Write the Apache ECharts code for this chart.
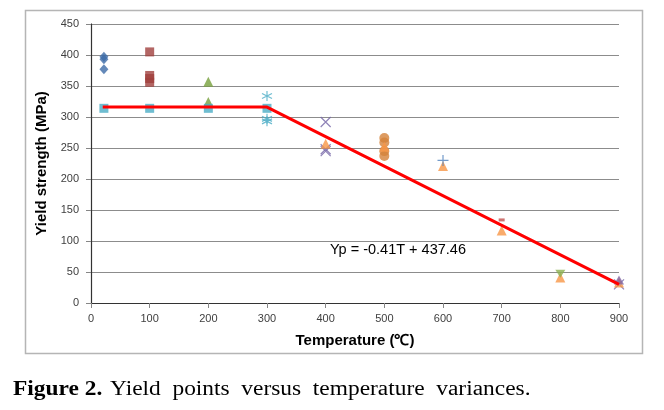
<!DOCTYPE html>
<html><head><meta charset="utf-8">
<script src="https://cdn.jsdelivr.net/npm/echarts@6/dist/echarts.min.js"></script>
<style>html,body{margin:0;padding:0;background:#fff}#c{width:664px;height:410px}</style>
</head><body><div id="c"></div>
<script>
// Data (temperature °C, yield strength MPa)
const diamondBlue   = [[22,397],[22,393],[22,377]];
const squareRed     = [[100,405],[100,367],[100,362],[100,356]];
const triangleGreen = [[200,357],[200,324]];
const squareCyan    = [[22,314],[100,314],[200,314],[300,314]];
const starCyan      = [[300,334],[300,297],[300,293]];
const crossPurple   = [[400,292],[400,245],[400,248],[900,30]];
const circleOrange  = [[500,266],[500,259],[500,245],[500,237]];
const triangleOrange= [[400,257],[500,252],[600,221],[700,117],[800,41],[900,33]];
const plusBlue      = [[600,230]];
const dashRed       = [[700,134]];
const greenMark     = [[800,47]];
const purpleMark    = [[900,37]];
const fitLine       = [[20,316],[300,316],[900,30]];
const xTicks = [0,100,200,300,400,500,600,700,800,900];
const yTicks = [0,50,100,150,200,250,300,350,400,450];
const equationText = 'Yp = -0.41T + 437.46';

const chart = echarts.init(document.getElementById('c'));
const tickFont = {fontFamily:'Liberation Sans', fontSize:11, color:'#404040'};
const sc = (name,data,symbol,size,color,extra) => Object.assign({
  type:'scatter', name, data, symbol, symbolSize:size,
  itemStyle:{color}, z:3
}, extra||{});
const strokeSym = (name,data,path,size,color) => ({
  type:'scatter', name, data, symbol:path, symbolSize:size,
  itemStyle:{color:'none', borderColor:color, borderWidth:1.2}, z:3
});
chart.setOption({
  animation:false,
  grid:{left:91, right:45, top:24, bottom:107},
  xAxis:[{
    type:'value', min:0, max:900, interval:100,
    axisLine:{show:true, lineStyle:{color:'#868686', width:1}},
    axisTick:{show:true, length:5, lineStyle:{color:'#868686'}},
    axisLabel:Object.assign({margin:10}, tickFont),
    splitLine:{show:false},
    name:'Temperature (℃)', nameLocation:'middle', nameGap:30,
    nameTextStyle:{fontFamily:'Liberation Sans', fontWeight:'bold', fontSize:15, color:'#000'}
  },{
    type:'value', position:'top', min:0, max:900,
    axisLine:{show:true, lineStyle:{color:'#333', width:1.2}},
    axisTick:{show:false}, axisLabel:{show:false}, splitLine:{show:false}
  }],
  yAxis:[{
    type:'value', min:0, max:450, interval:50,
    axisLine:{show:true, lineStyle:{color:'#868686', width:1}},
    axisTick:{show:true, length:5, lineStyle:{color:'#868686'}},
    axisLabel:Object.assign({margin:12}, tickFont),
    splitLine:{show:true, lineStyle:{color:'#8c8c8c', width:1}},
    name:'Yield strength (MPa)', nameLocation:'middle', nameGap:42,
    nameTextStyle:{fontFamily:'Liberation Sans', fontWeight:'bold', fontSize:15, color:'#000'}
  },{
    type:'value', position:'right', min:0, max:450,
    axisLine:{show:true, lineStyle:{color:'#333', width:1.2}},
    axisTick:{show:false}, axisLabel:{show:false}, splitLine:{show:false}
  }],
  graphic:[
    {type:'rect', shape:{x:25.5, y:10.5, width:617, height:343},
     style:{fill:'none', stroke:'#b5b5b5', lineWidth:1.5}, silent:true, z:-1},
    {type:'text', x:330, y:250, style:{text:equationText, fontFamily:'Liberation Sans', fontSize:14.5, fill:'#000', verticalAlign:'middle'}},
    {type:'text', x:13, y:390, scaleX:1.17, style:{
      text:'{b|Figure 2.}  {r|Yield  points  versus  temperature  variances.}',
      verticalAlign:'middle',
      rich:{
        b:{fontFamily:'Liberation Serif', fontWeight:'bold', fontSize:20, fill:'#000'},
        r:{fontFamily:'Liberation Serif', fontSize:20, fill:'#000'}
      }}}
  ],
  series:[
    sc('d', diamondBlue, 'diamond', [9,10], '#3D6BA8'),
    sc('sr', squareRed, 'rect', 9, '#A0403D'),
    sc('tg', triangleGreen, 'triangle', 10, '#77A03C'),
    sc('sc', squareCyan, 'rect', 9, '#4BACC6'),
    strokeSym('st', starCyan, 'path://M5,0L5,10M0,2.5L10,7.5M0,7.5L10,2.5', 10, '#4BACC6'),
    strokeSym('x', crossPurple, 'path://M0,0L10,10M10,0L0,10', 10, '#7464A6'),
    sc('co', circleOrange, 'circle', 10, '#D4823A'),
    sc('to', triangleOrange, 'triangle', 10, '#F79646'),
    strokeSym('p', plusBlue, 'path://M5,0L5,10M0,5L10,5', 11, '#4F81BD'),
    sc('dr', dashRed, 'rect', [6,3], '#C0504D'),
    sc('gm', greenMark, 'triangle', [10,8], '#8CB050', {symbolRotate:180}),
    sc('pm', purpleMark, 'triangle', [10,9], '#8064A2'),
    {type:'line', data:fitLine, symbol:'none', z:5,
     lineStyle:{color:'#FF0000', width:3}}
  ]
});
</script></body></html>
